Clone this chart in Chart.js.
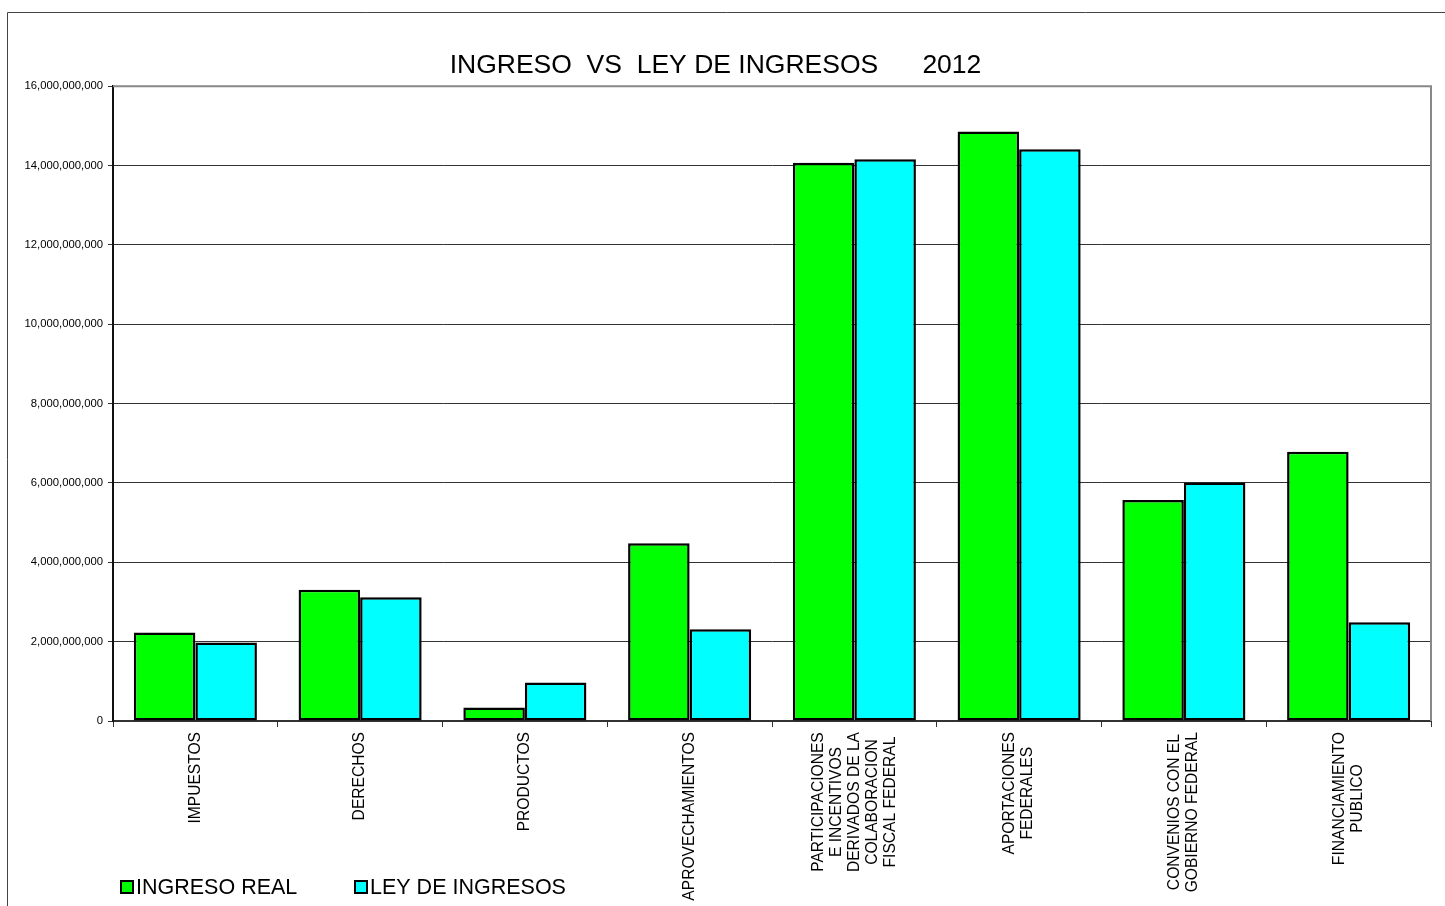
<!DOCTYPE html>
<html>
<head>
<meta charset="utf-8">
<script src="https://cdn.jsdelivr.net/npm/chart.js@4"></script>
<style>
  html, body { margin: 0; padding: 0; background: #fff; }
  canvas { display: block; }
</style>
</head>
<body>
<canvas id="ingresosChart" width="1445" height="906"></canvas>
<script>
// categorias (etiquetas de varias lineas)
var categorias = [
    ['IMPUESTOS'],
    ['DERECHOS'],
    ['PRODUCTOS'],
    ['APROVECHAMIENTOS'],
    ['PARTICIPACIONES', 'E INCENTIVOS', 'DERIVADOS DE LA', 'COLABORACION', 'FISCAL FEDERAL'],
    ['APORTACIONES', 'FEDERALES'],
    ['CONVENIOS CON EL', 'GOBIERNO FEDERAL'],
    ['FINANCIAMIENTO', 'PUBLICO']
];
var ingresoReal = [2230000000, 3310000000, 340000000, 4480000000, 14070000000, 14860000000, 5570000000, 6790000000];
var leyIngresos = [1980000000, 3120000000, 970000000, 2310000000, 14160000000, 14410000000, 6010000000, 2490000000];
var ticksY = [0, 2000000000, 4000000000, 6000000000, 8000000000, 10000000000, 12000000000, 14000000000, 16000000000];

var FONT = '"Liberation Sans", Arial, sans-serif';

// marco, borde del area, etiquetas del eje x y leyenda
var extras = {
    id: 'extras',
    afterDatasetsDraw: function (chart) {
        var ctx = chart.ctx;
        var a = chart.chartArea;
        ctx.save();
        // borde gris del area de trazado (arriba y derecha)
        ctx.strokeStyle = '#888';
        ctx.lineWidth = 2;
        ctx.beginPath();
        ctx.moveTo(a.left, a.top);
        ctx.lineTo(a.right, a.top);
        ctx.lineTo(a.right, a.bottom);
        ctx.stroke();
        ctx.restore();
    },
    afterDraw: function (chart) {
        var ctx = chart.ctx;
        var a = chart.chartArea;
        var xs = chart.scales.x;
        ctx.save();
        // marco exterior
        ctx.strokeStyle = '#444';
        ctx.lineWidth = 1;
        ctx.beginPath();
        ctx.moveTo(7.5, 906);
        ctx.lineTo(7.5, 12.5);
        ctx.lineTo(1445, 12.5);
        ctx.stroke();

        // etiquetas de categoria, giradas y centradas
        ctx.fillStyle = '#000';
        ctx.font = '15.6px ' + FONT;
        ctx.textAlign = 'center';
        ctx.textBaseline = 'middle';
        var lh = 18;
        categorias.forEach(function (lines, i) {
            var cx = xs.getPixelForValue(i);
            var maxW = 0;
            lines.forEach(function (l) { maxW = Math.max(maxW, ctx.measureText(l).width); });
            var cy = a.bottom + 11 + maxW / 2;
            ctx.save();
            ctx.translate(cx, cy);
            ctx.rotate(-Math.PI / 2);
            lines.forEach(function (l, j) {
                ctx.fillText(l, 0, (j - (lines.length - 1) / 2) * lh);
            });
            ctx.restore();
        });

        // leyenda
        var items = [
            { text: 'INGRESO REAL', color: chart.data.datasets[0].backgroundColor, x: 121 },
            { text: 'LEY DE INGRESOS', color: chart.data.datasets[1].backgroundColor, x: 355 }
        ];
        ctx.font = '21.5px ' + FONT;
        ctx.textAlign = 'left';
        items.forEach(function (it) {
            ctx.fillStyle = it.color;
            ctx.fillRect(it.x, 881, 12, 12);
            ctx.strokeStyle = '#000';
            ctx.lineWidth = 2;
            ctx.strokeRect(it.x, 881, 12, 12);
            ctx.fillStyle = '#000';
            ctx.fillText(it.text, it.x + 15, 888);
        });
        ctx.restore();
    }
};

var ctx = document.getElementById('ingresosChart').getContext('2d');
var chart = new Chart(ctx, {
    type: 'bar',
    data: {
        labels: categorias,
        datasets: [{
            label: 'INGRESO REAL',
            data: ingresoReal,
            backgroundColor: '#00ff00',
            borderColor: '#000',
            borderWidth: 2.5,
            borderSkipped: false
        }, {
            label: 'LEY DE INGRESOS',
            data: leyIngresos,
            backgroundColor: '#00ffff',
            borderColor: '#000',
            borderWidth: 2.5,
            borderSkipped: false
        }]
    },
    options: {
        responsive: false,
        animation: false,
        categoryPercentage: 0.747,
        barPercentage: 1.0,
        layout: { padding: { left: 0, right: 14, top: 0, bottom: 0 } },
        plugins: {
            legend: { display: false },
            tooltip: { enabled: false },
            title: {
                display: true,
                text: 'INGRESO  VS  LEY DE INGRESOS      2012',
                color: '#000',
                font: { family: FONT, size: 26.5, weight: 'normal' },
                padding: { top: 50, bottom: 4.5 }
            }
        },
        scales: {
            x: {
                offset: true,
                ticks: { display: false },
                grid: { drawOnChartArea: false, drawTicks: true, tickLength: 6, color: '#333', offset: true },
                border: { color: '#333', width: 2 },
                afterFit: function (scale) { scale.height = 185; }
            },
            y: {
                min: 0,
                max: 16000000000,
                afterBuildTicks: function (scale) {
                    scale.ticks = ticksY.map(function (v) { return { value: v }; });
                },
                ticks: {
                    color: '#000',
                    padding: 5,
                    font: { family: FONT, size: 11.3 },
                    callback: function (v) { return Number(v).toLocaleString('en-US'); }
                },
                grid: { color: '#333', lineWidth: 1, tickLength: 5 },
                border: { color: '#111', width: 2 },
                afterFit: function (scale) { scale.width = 113; }
            }
        }
    },
    plugins: [extras]
});
</script>
</body>
</html>
